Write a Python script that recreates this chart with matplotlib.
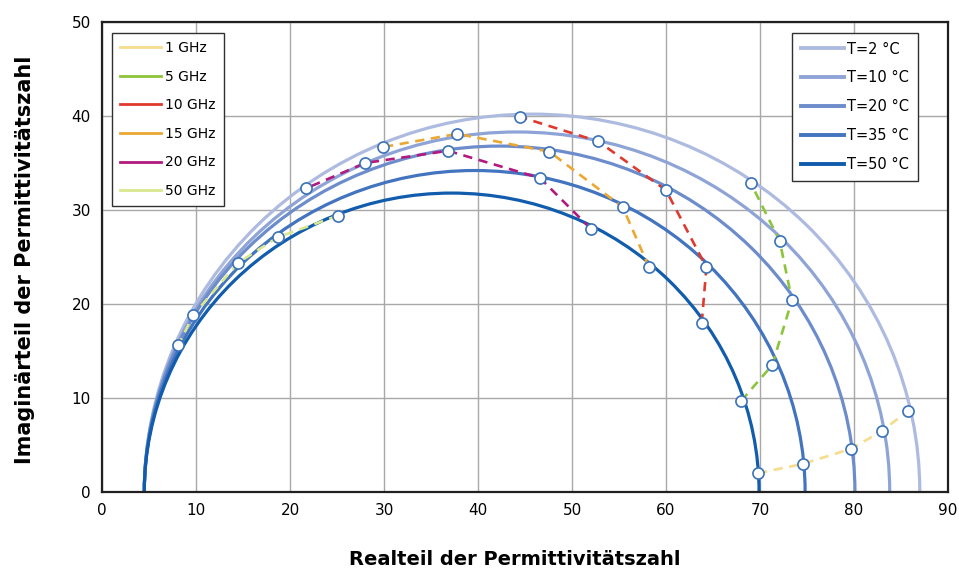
import matplotlib
matplotlib.use("Agg")
import matplotlib.pyplot as plt
from matplotlib.patches import Arc
from matplotlib.lines import Line2D

# ── Data ──────────────────────────────────────────────────────────────────────

temp_labels = ["T=2 °C", "T=10 °C", "T=20 °C", "T=35 °C", "T=50 °C"]
eps_static  = [87.0, 83.8, 80.1, 74.8, 69.9]   # arc end on the real axis
eps_inf     = [4.5, 4.5, 4.5, 4.5, 4.5]        # arc start on the real axis
eps_peak    = [40.2, 38.3, 36.8, 34.2, 31.8]   # arc top (imaginary part)

freq_labels = ["1 GHz", "5 GHz", "10 GHz", "15 GHz", "20 GHz", "50 GHz"]

# points per frequency, ordered T=50 … T=2
freq_real = [
    [69.8, 74.6, 79.7, 83.0, 85.7],
    [68.0, 71.3, 73.4, 72.1, 69.0],
    [63.8, 64.3, 60.0, 52.8, 44.5],
    [58.2, 55.4, 47.6, 37.8, 29.9],
    [52.0, 46.6, 36.8, 28.0, 21.7],
    [25.1, 18.7, 14.5, 9.7, 8.1],
]
freq_imag = [
    [2.0, 3.0, 4.6, 6.5, 8.6],
    [9.7, 13.5, 20.4, 26.7, 32.9],
    [18.0, 23.9, 32.1, 37.3, 39.9],
    [23.9, 30.3, 36.2, 38.1, 36.7],
    [28.0, 33.4, 36.3, 35.0, 32.3],
    [29.4, 27.1, 24.4, 18.8, 15.6],
]

x_ticks = list(range(0, 91, 10))
y_ticks = list(range(0, 51, 10))

# ── Styles ────────────────────────────────────────────────────────────────────

temp_colors = ["#aebbe0", "#8fa4d6", "#6d8ccb", "#4274bf", "#115cad"]
freq_colors = ["#f6dc8c", "#8cc43c", "#e03a2e", "#eda733", "#b3197f", "#d9e88e"]

fig = plt.figure(figsize=(9.59, 5.70), dpi=100)
ax = fig.add_axes([102 / 959, 78 / 570, 846 / 959, 470 / 570])

for es, ei, ep, c in zip(eps_static, eps_inf, eps_peak, temp_colors):
    ax.add_patch(Arc(((es + ei) / 2, 0), es - ei, 2 * ep, theta1=0, theta2=180,
                     color=c, lw=2.3, zorder=2))

for xs, ys, c in zip(freq_real, freq_imag, freq_colors):
    ax.plot(xs, ys, color=c, lw=1.9, dashes=(3.5, 2.5), zorder=3)
    ax.plot(xs, ys, ls="none", marker="o", ms=8, mfc="white", mec="#3a72b8",
            mew=1.2, zorder=4)

ax.set_xlim(0, 90)
ax.set_ylim(0, 50)
ax.set_xticks(x_ticks)
ax.set_yticks(y_ticks)
ax.tick_params(length=0, labelsize=11, pad=8)
ax.grid(True, color="#a8a8a8", lw=1.0, zorder=0)
ax.set_axisbelow(True)
for s in ax.spines.values():
    s.set_linewidth(1.6)
    s.set_color("#202020")

ax.set_xlabel("Realteil der Permittivitätszahl", fontsize=14,
              fontweight="bold", va="center")
ax.set_ylabel("Imaginärteil der Permittivitätszahl", fontsize=15,
              fontweight="bold", va="center")
ax.xaxis.set_label_coords(0.488, -0.143)
ax.yaxis.set_label_coords(-0.091, 0.494)

# ── Legends ───────────────────────────────────────────────────────────────────

freq_handles = [Line2D([], [], color=c, lw=2) for c in freq_colors]
leg1 = ax.legend(freq_handles, freq_labels, loc="upper left",
                 bbox_to_anchor=(0.012, 0.977), borderaxespad=0,
                 fontsize=10, labelspacing=1.05, handlelength=2.9,
                 handletextpad=0.3, fancybox=False, edgecolor="#303030",
                 framealpha=1, borderpad=0.6)
leg1.get_frame().set_linewidth(1.0)
ax.add_artist(leg1)

temp_handles = [Line2D([], [], color=c, lw=2.8) for c in temp_colors]
leg2 = ax.legend(temp_handles, temp_labels, loc="upper right",
                 bbox_to_anchor=(0.9645, 0.977), borderaxespad=0,
                 fontsize=10.5, labelspacing=0.95, handlelength=3.0,
                 handletextpad=0.2, fancybox=False, edgecolor="#303030",
                 framealpha=1, borderpad=0.6)
leg2.get_frame().set_linewidth(1.0)

fig.savefig("out.png", dpi=100)
